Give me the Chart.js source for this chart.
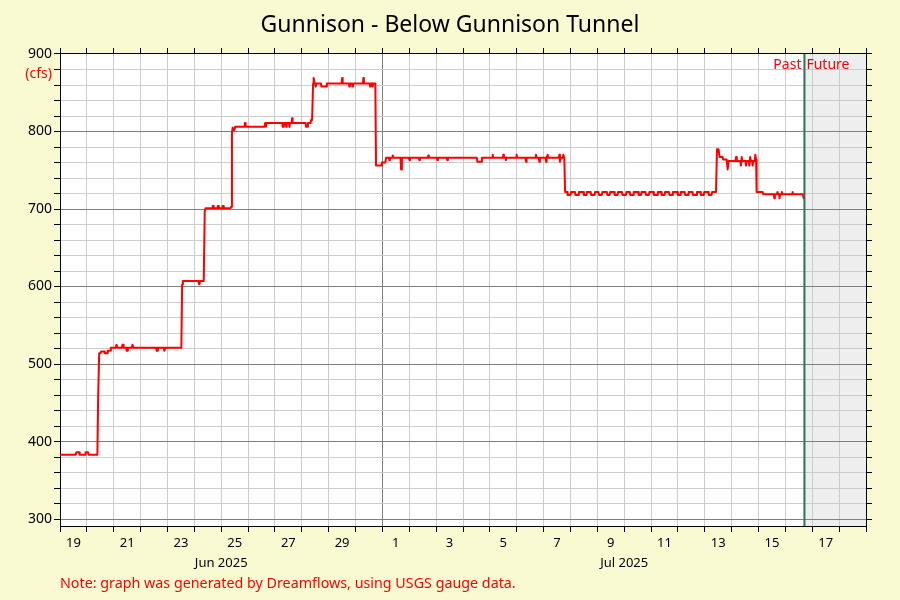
<!DOCTYPE html>
<html><head><meta charset="utf-8">
<script src="https://cdn.jsdelivr.net/npm/chart.js@4/dist/chart.umd.min.js"></script>
<style>html,body{margin:0;padding:0;background:#FAFAD2;}</style>
</head><body>
<canvas id="c" width="900" height="600"></canvas>
<script>
// ---------- data (x = hours since 2025-06-19 00:00) ----------
const chartTitle = 'Gunnison - Below Gunnison Tunnel';
const unitLabel = '(cfs)';
const noteText = 'Note: graph was generated by Dreamflows, using USGS gauge data.';
const pastLabel = 'Past';
const futureLabel = 'Future';
const axisStartHour = 0;    // Jun 19 2025 00:00
const axisEndHour = 720;    // Jul 19 2025 00:00
const nowHour = 665;        // Jul 16 ~17:00
const dayTickHours = [0,24,48,72,96,120,144,168,192,216,240,264,288,312,336,360,384,408,432,456,480,504,528,552,576,600,624,648,672,696,720];
const monthBoundaryHour = 288; // Jul 1 00:00
const dayLabelHours = [12,36,60,84,108,132,156,180,204,228,252,276,300,324,348,372,396,420,444,468,492,516,540,564,588,612,636,660,684,708];
const dayTickLabels = ['19','','21','','23','','25','','27','','29','','1','','3','','5','','7','','9','','11','','13','','15','','17',''];
const monthTickHours = [144, 504];
const monthLabels = ['Jun 2025', 'Jul 2025'];
const yMin = 291, yMax = 900;
const yTickValues = [300,320,340,360,380,400,420,440,460,480,500,520,540,560,580,600,620,640,660,680,700,720,740,760,780,800,820,840,860,880,900];

const hours = [
  0, 14.0, 14.6, 17.0, 17.6, 22.5, 22.9, 25.0, 25.6, 33.4,
  34.1, 35.0, 36.2, 36.7, 39.5, 40.0, 42.2, 42.6, 44.8, 45.4,
  49.9, 50.4, 50.9, 51.4, 55.3, 55.8, 56.3, 56.8, 59.2, 59.6, 60.1, 60.6,
  64.2, 64.7, 65.2, 65.7, 86.0, 86.4, 86.9, 87.4, 92.8, 93.2, 93.7, 94.2, 108.4,
  109.1, 109.8, 123.6, 124.1, 124.6, 125.1, 128.4,
  129.3, 130.0, 136.0, 136.4, 136.9, 137.4, 140.5, 140.9, 141.4, 141.9, 144.9, 145.3, 145.8, 146.3, 152.4, 152.8,
  153.6, 154.2, 155.0, 155.8, 156.5, 164.8, 165.3, 165.8, 182.6, 183.3, 183.9, 184.6,
  198.5, 198.9, 199.5, 200.0, 201.7, 202.1, 202.5, 204.6, 205.0, 205.5, 206.9, 207.3, 207.8, 219.4, 219.8, 221.0, 221.5, 223.9, 224.3, 225.2,
  226.1, 226.6, 227.4, 228.1, 228.5, 229.0, 233.1, 233.5, 238.0, 238.4, 251.6, 252.0, 252.5,
  258.1, 258.5, 259.0, 260.8, 261.2, 261.7, 270.6, 271.0, 271.5, 276.6, 277.0, 277.5, 278.9, 279.3, 279.8, 281.7,
  282.3, 286.8, 287.5, 290.6, 291.3, 293.8, 294.2, 294.7, 296.8, 297.2, 297.7, 304.2, 304.7, 305.4,
  311.7, 312.1, 312.6, 320.6, 321.0, 321.5, 328.6, 329.0, 329.5, 336.7, 337.1, 337.6, 345.6, 346.0, 346.5,
  372.4, 372.8, 376.4, 376.9, 386.1, 386.5, 387.0, 395.6, 396.0, 396.5, 398.0, 398.4, 398.9,
  407.5, 407.9, 408.4, 415.9, 416.3, 416.8, 424.8, 425.2, 425.7, 427.8, 428.2, 428.7, 433.8, 434.2, 434.7, 435.6, 436.1,
  445.7, 446.1, 446.6, 447.1, 449.2, 449.6, 450.5,
  451.2, 453.0, 453.5, 456.0, 456.5, 460.0, 460.5, 463.0, 463.5, 467.5, 468.0, 470.0, 470.5, 474.0, 474.5, 477.5, 478.0, 481.0, 481.5, 484.0, 484.5, 488.5, 489.0, 491.0, 491.5, 495.0, 495.5, 498.0,
  498.5, 502.0, 502.5, 505.5, 506.0, 509.0, 509.5, 512.0, 512.5, 516.5, 517.0, 519.0, 519.5, 523.0, 523.5, 526.0, 526.5, 530.0, 530.5, 533.5, 534.0, 537.0, 537.5, 540.0,
  540.5, 544.0, 544.5, 547.0, 547.5, 551.5, 552.0, 554.0, 554.5, 558.0, 558.5, 561.0, 561.5, 565.0, 565.5, 568.5, 569.0, 572.0, 572.5, 575.0, 575.5, 579.0, 579.5, 582.0, 582.5, 586.0,
  586.9, 588.3, 589.2, 591.9, 592.4, 595.5, 596.4, 597.3, 603.4, 603.9, 604.6, 607.8, 608.3, 609.0, 609.6,
  612.3, 612.8, 613.5, 615.3, 615.8, 616.5, 617.3, 618.2, 618.7, 619.4, 620.6, 621.1, 621.8, 622.3,
  627.7, 628.2, 637.7, 638.1, 638.6, 640.3, 641.0, 641.5, 642.4, 642.8, 643.3, 644.5, 644.9, 645.4, 654.0, 654.4, 654.9, 663.6, 664.2
];
const cfs = [
  383, 383, 386, 386, 383, 383, 386, 386, 383, 383,
  459, 514, 514, 516, 516, 514, 514, 517, 517, 521,
  521, 525, 525, 521, 521, 525, 525, 521, 521, 517, 517, 521,
  521, 525, 525, 521, 521, 517, 517, 521, 521, 517, 517, 521, 521,
  603, 607, 607, 603, 603, 607, 607,
  697, 701, 701, 704, 704, 701, 701, 704, 704, 701, 701, 704, 704, 701, 701, 703,
  798, 805, 802, 802, 806, 806, 811, 806, 806, 811, 806, 811,
  811, 806, 806, 811, 811, 806, 811, 811, 806, 811, 811, 817, 811, 811, 806, 806, 811, 811, 815, 815,
  862, 869, 862, 862, 858, 862, 862, 858, 858, 862, 862, 869, 862,
  862, 858, 862, 862, 858, 862, 862, 869, 862, 862, 858, 862, 862, 858, 862, 862,
  756, 756, 760, 760, 766, 766, 763, 766, 766, 769, 766, 766, 751, 766,
  766, 763, 766, 766, 763, 766, 766, 769, 766, 766, 763, 766, 766, 763, 766,
  766, 761, 761, 766, 766, 770, 766, 766, 770, 766, 766, 763, 766,
  766, 770, 766, 766, 761, 766, 766, 770, 766, 766, 761, 766, 766, 761, 766, 770, 766,
  766, 770, 761, 766, 766, 770, 766,
  722, 722, 718, 718, 722, 722, 718, 718, 722, 722, 718, 718, 722, 722, 718, 718, 722, 722, 718, 718, 722, 722, 718, 718, 722, 722, 718, 718,
  722, 722, 718, 718, 722, 722, 718, 718, 722, 722, 718, 718, 722, 722, 718, 718, 722, 722, 718, 718, 722, 722, 718, 718,
  722, 722, 718, 718, 722, 722, 718, 718, 722, 722, 718, 718, 722, 722, 718, 718, 722, 722, 718, 718, 722, 722, 718, 718, 722, 722,
  777, 777, 767, 767, 764, 764, 751, 762, 762, 767, 762, 762, 756, 767, 762,
  762, 756, 762, 762, 756, 767, 762, 762, 756, 762, 762, 770, 764, 722,
  722, 719, 719, 714, 719, 719, 722, 719, 719, 714, 719, 719, 722, 719, 719, 722, 719, 719, 714
];

// ---------- chart ----------
Chart.defaults.font.family = "'Noto Sans', 'Open Sans', sans-serif";
Chart.defaults.color = '#000000';

const decor = {
  id: 'decor',
  beforeDraw(chart) {
    const {ctx, chartArea: a} = chart;
    ctx.save();
    ctx.fillStyle = '#FAFAD2';
    ctx.fillRect(0, 0, chart.width, chart.height);
    ctx.fillStyle = '#ffffff';
    ctx.fillRect(a.left, a.top, a.right - a.left, a.bottom - a.top);
    const nx = chart.scales.x.getPixelForValue(nowHour);
    ctx.fillStyle = '#eeeeee';
    ctx.fillRect(nx, a.top, a.right - nx, a.bottom - a.top);
    ctx.restore();
  },
  afterDatasetsDraw(chart) {
    const {ctx, chartArea: a} = chart;
    const nx = chart.scales.x.getPixelForValue(nowHour);
    ctx.save();
    ctx.strokeStyle = '#2e7060';
    ctx.lineWidth = 2;
    ctx.beginPath();
    ctx.moveTo(nx, a.top);
    ctx.lineTo(nx, a.bottom);
    ctx.stroke();
    ctx.fillStyle = '#ff0000';
    ctx.font = "14px 'Noto Sans', sans-serif";
    ctx.textBaseline = 'middle';
    ctx.textAlign = 'right';
    ctx.fillText(pastLabel, nx - 3, a.top + 11);
    ctx.textAlign = 'left';
    ctx.fillText(futureLabel, nx + 2, a.top + 11);
    ctx.restore();
  },
  afterDraw(chart) {
    const {ctx, chartArea: a} = chart;
    ctx.save();
    ctx.fillStyle = '#ff0000';
    ctx.font = "14px 'Noto Sans', sans-serif";
    ctx.textBaseline = 'middle';
    ctx.textAlign = 'right';
    ctx.fillText(unitLabel, a.left - 8, a.top + 20);
    ctx.textAlign = 'left';
    ctx.font = "14.3px 'Noto Sans', sans-serif";
    ctx.fillText(noteText, a.left, chart.height - 16);
    ctx.restore();
  }
};

const gridDay = (ctx) => {
  const v = ctx.tick && ctx.tick.value;
  if (v % 24 !== 0) return 'rgba(0,0,0,0)';
  return v === monthBoundaryHour ? '#808080' : '#cccccc';
};
const tickDay = (ctx) => {
  const v = ctx.tick && ctx.tick.value;
  return (v % 24 === 0) ? '#000000' : 'rgba(0,0,0,0)';
};

new Chart(document.getElementById('c'), {
  type: 'line',
  data: {
    datasets: [{
      label: 'Flow (cfs)',
      data: hours.map((h, i) => ({x: h, y: cfs[i]})),
      borderColor: '#ff0000',
      backgroundColor: '#ff0000',
      borderWidth: 2,
      borderJoinStyle: 'round',
      borderCapStyle: 'round',
      pointRadius: 0,
      tension: 0,
      fill: false
    }]
  },
  options: {
    responsive: false,
    animation: false,
    devicePixelRatio: 1,
    layout: {padding: {left: 0, right: 0, top: 0, bottom: 26}},
    plugins: {
      legend: {display: false},
      tooltip: {enabled: false},
      title: {
        display: true,
        text: chartTitle,
        color: '#000000',
        font: {size: 23, weight: 'normal'},
        padding: {top: 12, bottom: 0}
      }
    },
    scales: {
      x: {
        type: 'linear', position: 'bottom', weight: 0,
        min: axisStartHour, max: axisEndHour,
        afterBuildTicks: (s) => {
          const t = dayTickHours.map(v => ({value: v}));
          dayLabelHours.forEach(v => t.push({value: v}));
          t.sort((p, q) => p.value - q.value);
          s.ticks = t;
        },
        ticks: {
          autoSkip: false, maxRotation: 0, padding: 3,
          font: {size: 13},
          callback: (v) => {
            const i = dayLabelHours.indexOf(v);
            return i >= 0 ? dayTickLabels[i] : '';
          }
        },
        grid: {color: gridDay, tickColor: tickDay, tickLength: 6, lineWidth: 1},
        border: {color: '#000000', width: 1},
        afterFit: (s) => { s.height = 28; }
      },
      xMonth: {
        type: 'linear', position: 'bottom', weight: 1,
        min: axisStartHour, max: axisEndHour,
        afterBuildTicks: (s) => { s.ticks = monthTickHours.map(v => ({value: v})); },
        ticks: {
          autoSkip: false, maxRotation: 0, padding: 1,
          font: {size: 13},
          callback: (v) => monthLabels[monthTickHours.indexOf(v)]
        },
        grid: {display: false, drawTicks: false, tickLength: 0},
        border: {display: false},
        afterFit: (s) => { s.height = 20; }
      },
      xTop: {
        type: 'linear', position: 'top',
        min: axisStartHour, max: axisEndHour,
        afterBuildTicks: (s) => { s.ticks = dayTickHours.map(v => ({value: v})); },
        ticks: {display: false},
        grid: {drawOnChartArea: false, tickColor: '#000000', tickLength: 6},
        border: {color: '#000000', width: 1},
        afterFit: (s) => { s.height = 14.4; }
      },
      y: {
        type: 'linear', position: 'left',
        min: yMin, max: yMax,
        afterBuildTicks: (s) => { s.ticks = yTickValues.map(v => ({value: v})); },
        ticks: {
          autoSkip: false, padding: 2,
          font: {size: 14},
          callback: (v) => (v % 100 === 0 ? String(v) : '')
        },
        grid: {
          color: (ctx) => (ctx.tick && ctx.tick.value % 100 === 0 ? '#808080' : '#cccccc'),
          tickColor: '#000000', tickLength: 6, lineWidth: 1
        },
        border: {color: '#000000', width: 1},
        afterFit: (s) => { s.width = 60; }
      },
      yRight: {
        type: 'linear', position: 'right',
        min: yMin, max: yMax,
        afterBuildTicks: (s) => { s.ticks = yTickValues.map(v => ({value: v})); },
        ticks: {display: false},
        grid: {drawOnChartArea: false, tickColor: '#000000', tickLength: 6},
        border: {color: '#000000', width: 1},
        afterFit: (s) => { s.width = 34; }
      }
    }
  },
  plugins: [decor]
});
</script>
</body></html>
